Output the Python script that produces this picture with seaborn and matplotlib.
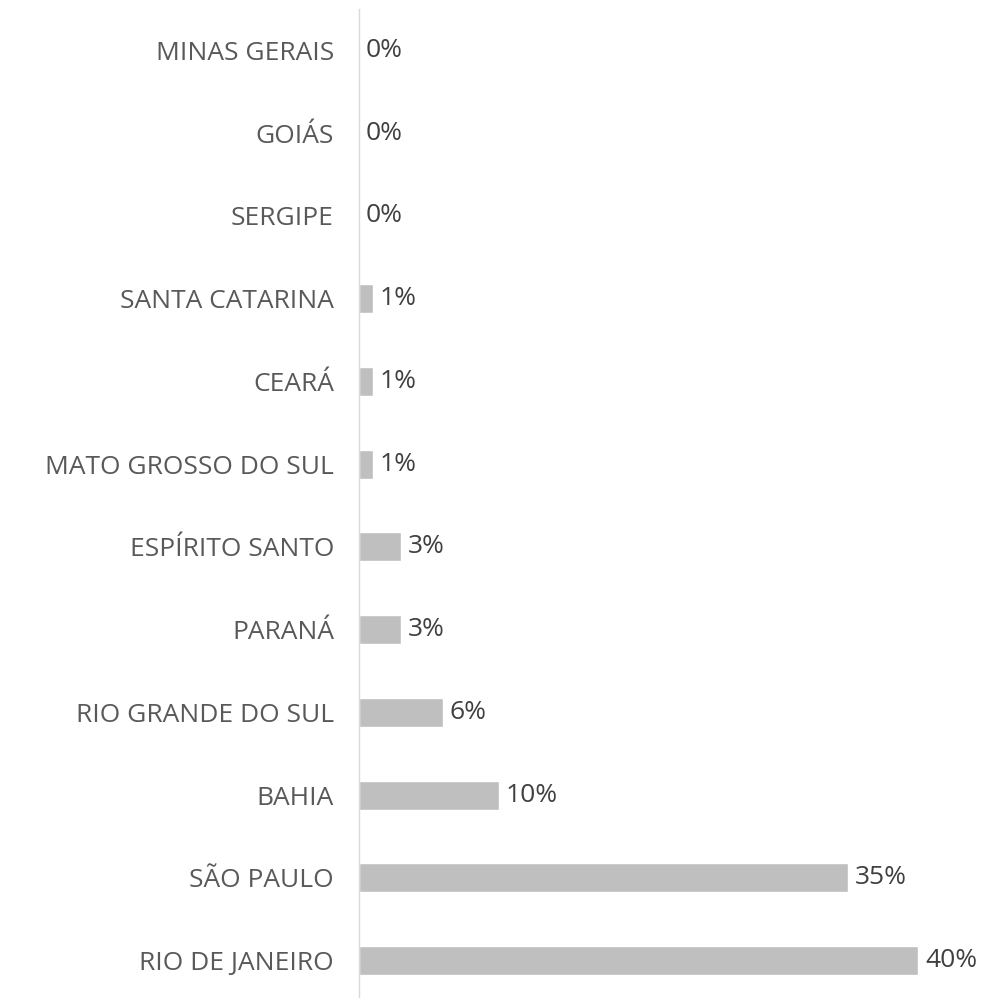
import numpy as np
import pandas as pd
import matplotlib
matplotlib.use("Agg")
import matplotlib.pyplot as plt
import seaborn as sns

states = ["MINAS GERAIS", "GOIÁS", "SERGIPE", "SANTA CATARINA", "CEARÁ",
          "MATO GROSSO DO SUL", "ESPÍRITO SANTO", "PARANÁ", "RIO GRANDE DO SUL",
          "BAHIA", "SÃO PAULO", "RIO DE JANEIRO"]
share = [0, 0, 0, 1, 1, 1, 3, 3, 6, 10, 35, 40]

df = pd.DataFrame({"state": states, "share": share})

sns.set_theme(style="white")
plt.rcParams["font.family"] = ["Open Sans", "DejaVu Sans"]

fig = plt.figure(figsize=(9.86, 9.98), dpi=100)
ax = fig.add_axes([359 / 986, -4 / 998, 627 / 986, 993 / 998])

sns.barplot(data=df, x="share", y="state", color="#BFBFBF", saturation=1,
            width=0.35, ax=ax)

ax.set_xlim(0, 44.85)
ax.set_ylim(11.5, -0.5)
ax.set_xlabel("")
ax.set_ylabel("")
ax.set_xticks([])
for s in ["top", "right", "bottom"]:
    ax.spines[s].set_visible(False)
ax.spines["left"].set_color("#D9D9D9")
ax.spines["left"].set_linewidth(1)
ax.tick_params(axis="y", length=0, pad=18, labelsize=19, labelcolor="#595959")

ax.bar_label(ax.containers[0], labels=[f"{v}%" for v in share], padding=5,
             fontsize=19, color="#404040")

fig.savefig("out.png", dpi=100)
